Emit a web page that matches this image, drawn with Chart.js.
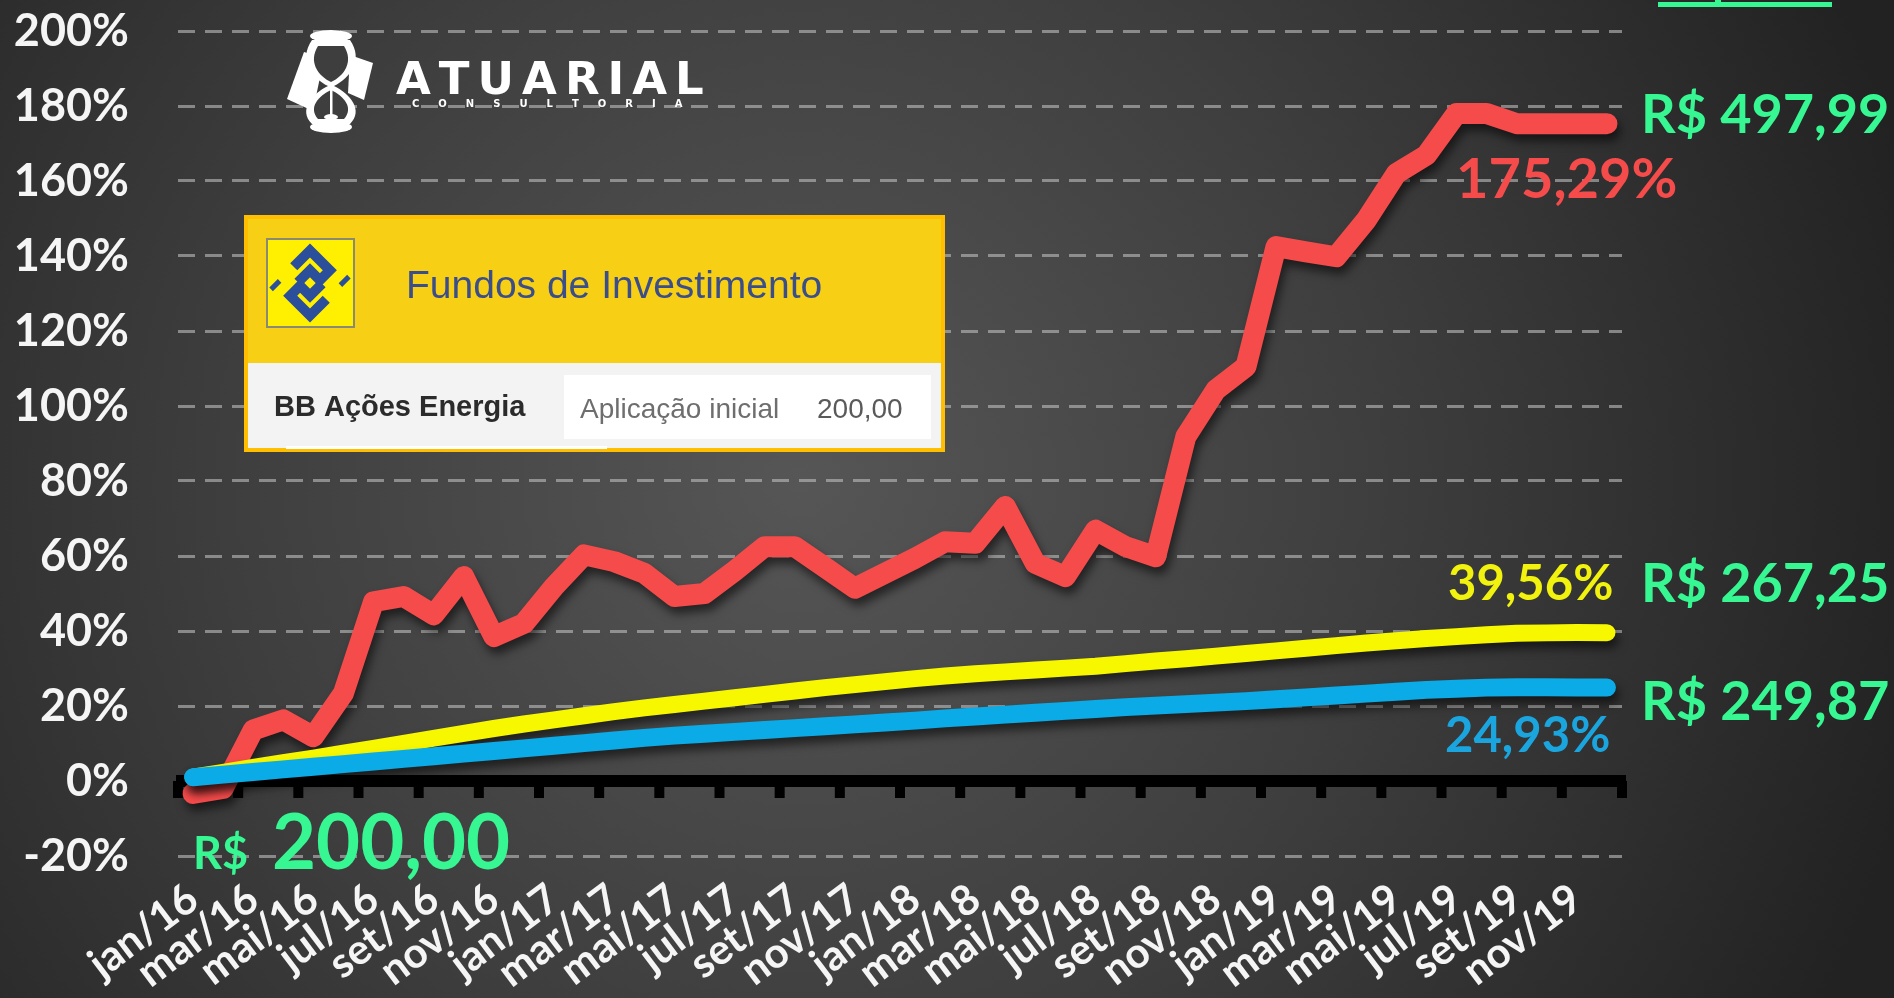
<!DOCTYPE html>
<html>
<head>
<meta charset="utf-8">
<script src="https://cdn.jsdelivr.net/npm/chart.js"></script>
<style>
  html, body { margin: 0; padding: 0; background: #2b2b2b; overflow: hidden; }
  canvas { display: block; }
</style>
</head>
<body>
<canvas id="chart" width="1894" height="998"></canvas>
<script>
// meses (um ponto por mês)
const months = [
  'jan/16', 'fev/16', 'mar/16', 'abr/16', 'mai/16', 'jun/16', 'jul/16', 'ago/16', 'set/16', 'out/16', 'nov/16', 'dez/16',
  'jan/17', 'fev/17', 'mar/17', 'abr/17', 'mai/17', 'jun/17', 'jul/17', 'ago/17', 'set/17', 'out/17', 'nov/17', 'dez/17',
  'jan/18', 'fev/18', 'mar/18', 'abr/18', 'mai/18', 'jun/18', 'jul/18', 'ago/18', 'set/18', 'out/18', 'nov/18', 'dez/18',
  'jan/19', 'fev/19', 'mar/19', 'abr/19', 'mai/19', 'jun/19', 'jul/19', 'ago/19', 'set/19', 'out/19', 'nov/19', 'dez/19',
];

// rótulos mostrados no eixo (bimestral)
const tickLabels = [
  'jan/16', 'mar/16', 'mai/16', 'jul/16', 'set/16', 'nov/16',
  'jan/17', 'mar/17', 'mai/17', 'jul/17', 'set/17', 'nov/17',
  'jan/18', 'mar/18', 'mai/18', 'jul/18', 'set/18', 'nov/18',
  'jan/19', 'mar/19', 'mai/19', 'jul/19', 'set/19', 'nov/19',
];

// rentabilidade acumulada (%)
const acoesEnergia = [
  -3.3, -2.0, 13.6, 16.3, 11.8, 23.4, 47.8, 49.2, 44.3, 54.5, 38.5, 42.0,
  51.8, 60.3, 58.5, 55.4, 49.2, 50.0, 56.0, 62.5, 62.5, 57.0, 51.4, 55.4,
  59.4, 63.8, 63.4, 73.2, 58.0, 54.5, 66.9, 62.5, 59.8, 91.8, 104.3, 110.5,
  142.5, 141.1, 139.8, 149.6, 162.0, 166.9, 178.0, 178.0, 175.3, 175.3, 175.3, 175.29,
];
const fundoDI = [
  1.0, 2.3, 3.6, 4.9, 6.1, 7.4, 8.7, 10.0, 11.4, 12.7, 14.0, 15.2,
  16.3, 17.4, 18.5, 19.5, 20.4, 21.3, 22.2, 23.1, 24.0, 24.9, 25.7, 26.5,
  27.3, 28.0, 28.6, 29.1, 29.6, 30.1, 30.6, 31.3, 32.0, 32.6, 33.3, 34.0,
  34.7, 35.4, 36.1, 36.8, 37.4, 38.0, 38.5, 39.0, 39.4, 39.5, 39.6, 39.56,
];
const poupanca = [
  1.0, 1.7, 2.4, 3.1, 3.8, 4.5, 5.2, 5.9, 6.6, 7.3, 8.0, 8.7,
  9.4, 10.1, 10.8, 11.5, 12.1, 12.6, 13.1, 13.6, 14.1, 14.6, 15.1, 15.6,
  16.1, 16.7, 17.2, 17.7, 18.2, 18.7, 19.2, 19.7, 20.1, 20.5, 20.9, 21.3,
  21.8, 22.3, 22.8, 23.3, 23.8, 24.3, 24.6, 24.9, 25.0, 25.0, 24.95, 24.93,
];

const yMin = -20;
const yMax = 200;
const yStep = 20;

const RED = '#f54b4b';
const YELLOW = '#f7f700';
const BLUE = '#0aabe6';
const GREEN = '#36f791';

const background = {
  id: 'background',
  beforeDraw(chart) {
    const { ctx, width, height } = chart;
    const g = ctx.createRadialGradient(800, 480, 0, 800, 480, 1150);
    g.addColorStop(0, '#565656');
    g.addColorStop(0.5, '#3e3e3e');
    g.addColorStop(1, '#222222');
    ctx.save();
    ctx.fillStyle = g;
    ctx.fillRect(0, 0, width, height);
    ctx.restore();
  },
};

// eixo do zero, preto e grosso, com marcas a cada dois meses
const zeroAxis = {
  id: 'zeroAxis',
  beforeDatasetsDraw(chart) {
    const { ctx, chartArea: a, scales: { x, y } } = chart;
    const y0 = y.getPixelForValue(0);
    ctx.save();
    ctx.fillStyle = '#000';
    ctx.fillRect(a.left - 2, y0 - 6, a.right - a.left + 6, 12);
    for (let i = 0; i <= months.length; i += 2) {
      let tx;
      if (i === 0) tx = a.left;
      else if (i === months.length) tx = a.right;
      else tx = (x.getPixelForValue(i - 1) + x.getPixelForValue(i)) / 2;
      ctx.fillRect(tx - 5, y0, 10, 17);
    }
    ctx.restore();
  },
};

const lineShadow = {
  id: 'lineShadow',
  beforeDatasetDraw(chart) {
    const c = chart.ctx;
    c.save();
    c.shadowColor = 'rgba(0,0,0,0.55)';
    c.shadowBlur = 10;
    c.shadowOffsetX = 3;
    c.shadowOffsetY = 7;
  },
  afterDatasetDraw(chart) {
    chart.ctx.restore();
  },
};

function spaced(ctx, text, x, y, gap) {
  for (const ch of text) {
    ctx.fillText(ch, x, y);
    x += ctx.measureText(ch).width + gap;
  }
}

function drawLogo(ctx) {
  ctx.save();
  ctx.fillStyle = '#ffffff';
  // asas
  ctx.beginPath();
  ctx.moveTo(304, 52); ctx.lineTo(324, 58); ctx.lineTo(313, 111); ctx.lineTo(287, 99);
  ctx.closePath(); ctx.fill();
  ctx.beginPath();
  ctx.moveTo(350, 55); ctx.lineTo(373, 63); ctx.lineTo(364, 100); ctx.lineTo(348, 93);
  ctx.closePath(); ctx.fill();
  // ampulheta
  ctx.beginPath();
  ctx.moveTo(312, 40);
  ctx.bezierCurveTo(298, 60, 312, 78, 328, 86);
  ctx.bezierCurveTo(312, 94, 298, 110, 312, 124);
  ctx.lineTo(350, 124);
  ctx.bezierCurveTo(364, 110, 350, 94, 334, 86);
  ctx.bezierCurveTo(350, 78, 364, 60, 350, 40);
  ctx.closePath();
  ctx.fill();
  ctx.beginPath(); ctx.ellipse(331, 36, 21, 6, 0, 0, Math.PI * 2); ctx.fill();
  ctx.beginPath(); ctx.ellipse(331, 127, 21, 6, 0, 0, Math.PI * 2); ctx.fill();
  ctx.fillStyle = '#3e3e3e';
  ctx.beginPath();
  ctx.moveTo(318, 46);
  ctx.bezierCurveTo(308, 62, 318, 76, 331, 82);
  ctx.bezierCurveTo(344, 76, 354, 62, 344, 46);
  ctx.closePath(); ctx.fill();
  ctx.beginPath();
  ctx.moveTo(331, 90);
  ctx.bezierCurveTo(318, 96, 308, 108, 318, 119);
  ctx.lineTo(344, 119);
  ctx.bezierCurveTo(354, 108, 344, 96, 331, 90);
  ctx.closePath(); ctx.fill();
  ctx.fillStyle = '#ffffff';
  ctx.fillRect(330, 88, 2.5, 28);
  ctx.beginPath(); ctx.ellipse(331, 117, 7, 3, 0, 0, Math.PI * 2); ctx.fill();
  // texto
  ctx.textBaseline = 'alphabetic';
  ctx.font = 'bold 45px "DejaVu Sans"';
  spaced(ctx, 'ATUARIAL', 396, 94, 8);
  ctx.font = 'bold 10px "DejaVu Sans"';
  spaced(ctx, 'CONSULTORIA', 412, 107, 19);
  ctx.restore();
}

function drawBBLogo(ctx) {
  ctx.save();
  ctx.fillStyle = '#ffef00';
  ctx.fillRect(267, 239, 87, 88);
  ctx.strokeStyle = '#8a8a72';
  ctx.lineWidth = 2;
  ctx.strokeRect(267, 239, 87, 88);
  ctx.translate(310, 283);
  ctx.rotate(Math.PI / 4);
  ctx.strokeStyle = '#2c4f9c';
  ctx.lineWidth = 10;
  ctx.lineJoin = 'miter';
  ctx.beginPath();
  ctx.moveTo(-23, 0); ctx.lineTo(-23, -23); ctx.lineTo(5, -23); ctx.lineTo(5, -9);
  ctx.lineTo(-9, -9); ctx.lineTo(-9, 8);
  ctx.stroke();
  ctx.beginPath();
  ctx.moveTo(23, 0); ctx.lineTo(23, 23); ctx.lineTo(-5, 23); ctx.lineTo(-5, 9);
  ctx.lineTo(9, 9); ctx.lineTo(9, -8);
  ctx.stroke();
  ctx.lineWidth = 5;
  ctx.beginPath(); ctx.moveTo(-23, 20); ctx.lineTo(-23, 32); ctx.stroke();
  ctx.beginPath(); ctx.moveTo(23, -20); ctx.lineTo(23, -32); ctx.stroke();
  ctx.restore();
}

function drawBBBox(ctx) {
  ctx.save();
  ctx.fillStyle = '#ffbf00';
  ctx.fillRect(244, 215, 701, 237);
  ctx.fillStyle = '#f7d016';
  ctx.fillRect(248, 219, 693, 144);
  ctx.fillStyle = '#f3f3f3';
  ctx.fillRect(248, 363, 693, 85);
  ctx.fillStyle = '#ffffff';
  ctx.fillRect(564, 375, 367, 64);
  ctx.fillRect(286, 446, 321, 3);
  drawBBLogo(ctx);
  ctx.textBaseline = 'alphabetic';
  ctx.fillStyle = '#3b4e8a';
  ctx.font = '39px "Liberation Sans", Arial, sans-serif';
  ctx.fillText('Fundos de Investimento', 406, 298);
  ctx.fillStyle = '#2b2b2b';
  ctx.font = 'bold 29px "Liberation Sans", Arial, sans-serif';
  ctx.fillText('BB Ações Energia', 274, 416);
  ctx.fillStyle = '#6e6e6e';
  ctx.font = '28px "Liberation Sans", Arial, sans-serif';
  ctx.fillText('Aplicação inicial', 580, 418);
  ctx.fillStyle = '#5a5a5a';
  ctx.fillText('200,00', 817, 418);
  ctx.restore();
}

const annotations = {
  id: 'annotations',
  afterDraw(chart) {
    const { ctx } = chart;
    drawLogo(ctx);
    drawBBBox(ctx);
    ctx.save();
    ctx.textBaseline = 'alphabetic';
    ctx.textAlign = 'left';
    // valores finais em reais
    ctx.fillStyle = GREEN;
    ctx.font = 'bold 54px Lato';
    ctx.fillText('R$ 497,99', 1641, 133);
    ctx.fillText('R$ 267,25', 1641, 602);
    ctx.fillText('R$ 249,87', 1641, 720);
    ctx.font = 'bold 45px Lato';
    ctx.fillText('R$', 193, 869);
    ctx.font = 'bold 76px Lato';
    ctx.fillText('200,00', 272, 869);
    ctx.fillRect(1658, 2, 174, 5);
    ctx.fillRect(1715, 0, 6, 3);
    // rentabilidades
    ctx.font = 'bold 56px Lato';
    ctx.fillStyle = RED;
    ctx.fillText('175,29%', 1456, 198);
    ctx.font = 'bold 49px Lato';
    ctx.fillStyle = '#f2f20f';
    ctx.fillText('39,56%', 1448, 600);
    ctx.fillStyle = '#1ba5df';
    ctx.fillText('24,93%', 1445, 752);
    ctx.restore();
  },
};

const line = (data, color, width) => ({
  data,
  borderColor: color,
  borderWidth: width,
  borderCapStyle: 'round',
  borderJoinStyle: 'round',
  pointRadius: 0,
  pointHoverRadius: 0,
  tension: 0,
  fill: false,
});

new Chart(document.getElementById('chart'), {
  type: 'line',
  data: {
    labels: months,
    datasets: [
      line(poupanca, BLUE, 18),
      line(fundoDI, YELLOW, 17),
      line(acoesEnergia, RED, 21),
    ],
  },
  options: {
    responsive: false,
    animation: false,
    layout: { padding: { left: 0, right: 272, top: 31, bottom: 0 } },
    plugins: {
      legend: { display: false },
      tooltip: { enabled: false },
    },
    scales: {
      x: {
        offset: true,
        grid: { display: false },
        border: { display: false },
        afterFit(scale) { scale.height = 142; },
        ticks: {
          autoSkip: false,
          minRotation: 37,
          maxRotation: 37,
          padding: 10,
          color: '#f5f5f5',
          font: { family: 'Lato', weight: 'bold', size: 42 },
          callback: (v, i) => (i % 2 === 0 ? tickLabels[i / 2] : ''),
        },
      },
      y: {
        min: yMin,
        max: yMax,
        afterFit(scale) {
          scale.width = 178;
          scale.paddingTop = 10;
          scale.paddingBottom = 10;
        },
        grid: {
          drawTicks: false,
          color: 'rgba(190,190,190,0.6)',
          lineWidth: 3,
        },
        border: { display: false, dash: [17, 10] },
        ticks: {
          stepSize: yStep,
          padding: 49,
          color: '#f5f5f5',
          font: { family: 'Lato', weight: 'bold', size: 45 },
          callback: (v) => v + '%',
        },
      },
    },
  },
  plugins: [background, zeroAxis, lineShadow, annotations],
});
</script>
</body>
</html>
